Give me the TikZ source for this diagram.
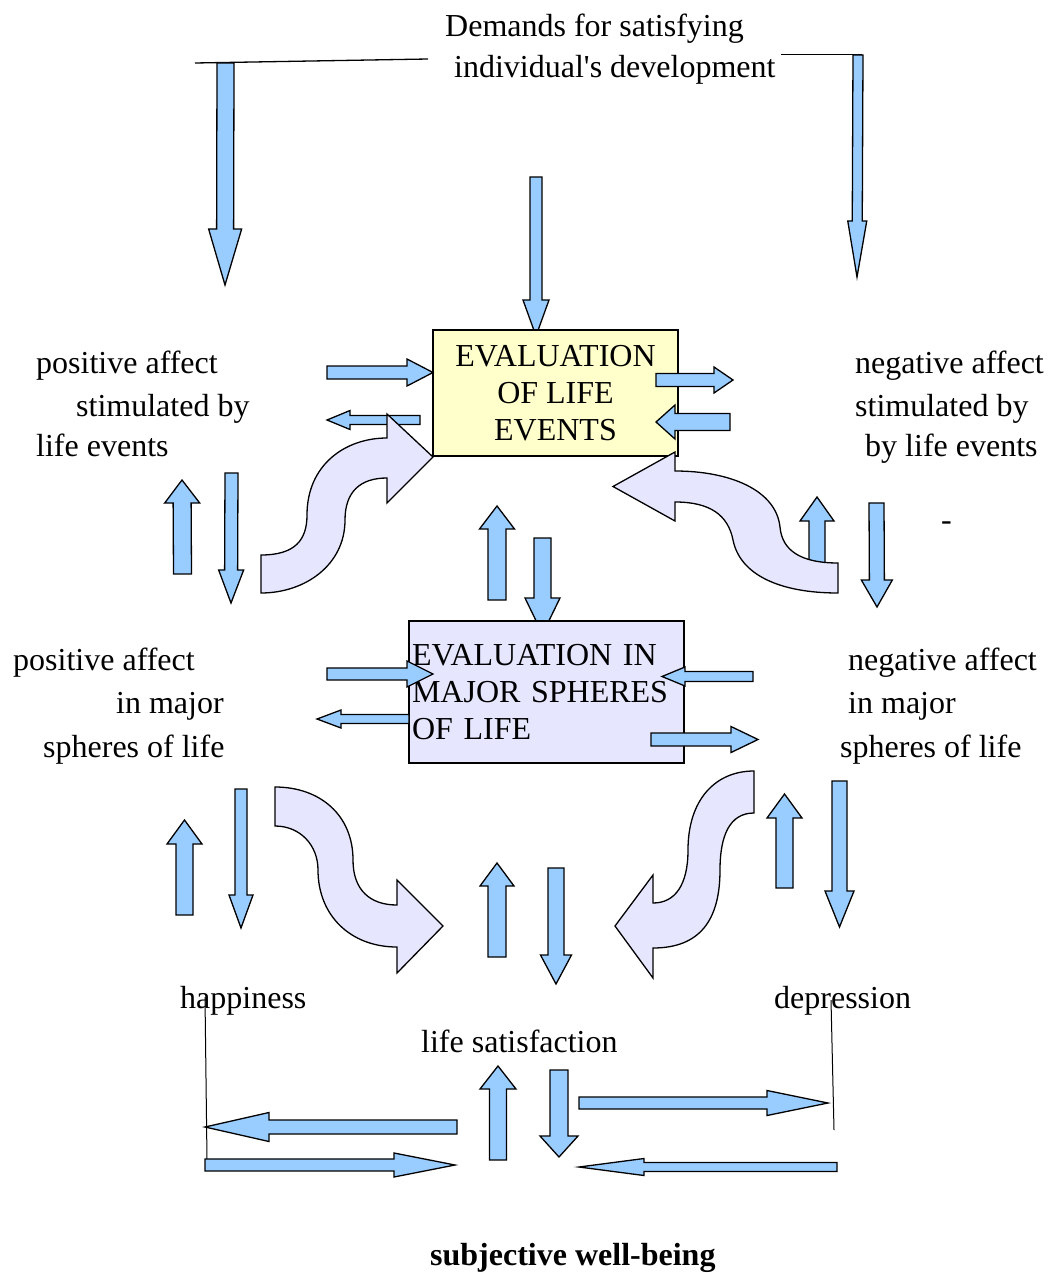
\documentclass[tikz,border=0pt]{standalone}
\usepackage{fontspec}
\setmainfont{Liberation Serif}[Ligatures=TeXOff]
\usetikzlibrary{calc}
\definecolor{arrowblue}{RGB}{153,204,255}
\definecolor{lavender}{RGB}{230,230,255}
\definecolor{paleyellow}{RGB}{255,255,204}
\tikzset{
  barrow/.style  = {draw=black, fill=arrowblue, line width=1.3pt, line join=miter},
  carrow/.style  = {draw=black, fill=lavender, line width=1.3pt, line join=miter},
  lbl/.style     = {anchor=base west, inner sep=0pt, font=\fontsize{32}{42}\selectfont},
  bracket/.style = {draw=black, line width=1.3pt},
  leader/.style  = {draw=black, line width=1pt},
  %% Box presets
  ybox/.style = {draw=black, fill=paleyellow, line width=1.3pt, align=center,
                 font=\fontsize{32}{37}\selectfont, inner sep=3pt},
  lbox/.style = {draw=black, fill=lavender, line width=1.3pt, align=left,
                 font=\fontsize{32}{37}\selectfont, inner sep=3pt},
}
%% block arrow: tail, tip, shaft width, head width, head length
\newcommand{\blockarrow}[5]{%
  \coordinate (ta) at (#1);
  \coordinate (tb) at (#2);
  \coordinate (th) at ($(tb)!#5pt!(ta)$);
  \draw[barrow] ($(ta)!#3pt*0.5!90:(tb)$) -- ($(th)!#3pt*0.5!-90:(ta)$)
    -- ($(th)!#4pt*0.5!-90:(ta)$) -- (tb)
    -- ($(th)!#4pt*0.5!90:(ta)$) -- ($(th)!#3pt*0.5!90:(ta)$)
    -- ($(ta)!#3pt*0.5!-90:(tb)$) -- cycle;
}

\begin{document}
\begin{tikzpicture}[x=1pt, y=-1pt]
\useasboundingbox (0,0) rectangle (1048,1273);

%% ---- (1) Demands on top ----
\node[lbl] (dem1) at (445,37) {Demands for satisfying};
\node[lbl] (dem2) at (454,78) {individual's development};

\coordinate (brL1) at (195,63);
\coordinate (brL2) at (428,59);
\coordinate (brR1) at (781,54.5);
\coordinate (brR2) at (862,54.5);
\draw[bracket] (brL1) -- (brL2);
\draw[bracket] (brR1) -- (brR2);

\blockarrow{225.5,63}{225,285}{17}{33}{56}
\blockarrow{858,55}{857,277}{10}{19}{56}
\blockarrow{536,177}{536,336}{12}{26}{36}

%% ---- (2) Evaluation of life events ----
\node[ybox, minimum width=245, minimum height=126] (evalevents) at (555.5,393)
  {EVALUATION\\OF LIFE\\EVENTS};

\blockarrow{327,372.5}{433,372.5}{13}{27}{26}
\blockarrow{420,420}{327,420}{9}{19}{23}
\blockarrow{656,380}{733,380}{13}{26}{19}
\blockarrow{730,422}{656,422}{17}{34}{19}

%% ---- (3) Affect stimulated by life events ----
\node[lbl] (pe1) at (36,373) {positive affect};
\node[lbl] (pe2) at (76,416) {stimulated by};
\node[lbl] (pe3) at (36,456) {life events};

\node[lbl] (ne1) at (855,373) {negative affect};
\node[lbl] (ne2) at (855,416) {stimulated by};
\node[lbl] (ne3) at (865,456) {by life events};
\node[lbl] (dash) at (941,530) {-};

\blockarrow{182.5,574}{182,480}{18}{35}{23}
\blockarrow{231.5,473}{231,603}{13}{25}{33}
\blockarrow{817,590}{817,497}{16}{34}{24}
\blockarrow{876.5,503}{877,607}{15}{31}{27}
\blockarrow{497,600}{497,506}{18}{35}{23}
\blockarrow{542.5,538}{542.5,634}{17}{35}{36}

%% curved arrows into the upper box
\draw[carrow] (261,555) .. controls (295,555) and (307,540) .. (307,515)
  .. controls (307,465) and (345,438) .. (387,438) -- (387,414) -- (433,457)
  -- (387,503) -- (387,478) .. controls (360,478) and (345,492) .. (345,520)
  .. controls (345,565) and (305,593) .. (261,593) -- cycle;
\draw[carrow] (838,563) .. controls (800,563) and (782,550) .. (780,527)
  .. controls (776,490) and (730,471) .. (675,471) -- (675,452) -- (613,486.5)
  -- (675,521) -- (675,502) .. controls (710,502) and (728,515) .. (733,540)
  .. controls (740,575) and (780,593) .. (838,593) -- cycle;

%% ---- (4) Evaluation in major spheres of life ----
\node[lbox, text width=269, minimum height=142] (evalspheres) at (546.5,692)
  {EVALUATION IN\\MAJOR SPHERES\\OF LIFE};

\blockarrow{327,674}{433,674}{12}{26}{26}
\blockarrow{409,719}{317,719}{9}{18}{24}
\blockarrow{753,676.5}{662,676.5}{10}{19}{23}
\blockarrow{651,739.5}{758,739.5}{13}{26}{27}

%% ---- (5) Affect in major spheres of life ----
\node[lbl] (ps1) at (13,670) {positive affect};
\node[lbl] (ps2) at (116,713) {in major};
\node[lbl] (ps3) at (43,757) {spheres of life};

\node[lbl] (ns1) at (848,670) {negative affect};
\node[lbl] (ns2) at (848,713) {in major};
\node[lbl] (ns3) at (840,757) {spheres of life};

\blockarrow{184.5,915}{184.5,820}{17}{35}{24}
\blockarrow{241,789}{241,928}{12}{24}{33}
\blockarrow{784.5,888}{784.5,794}{17}{35}{24}
\blockarrow{839.5,781}{839.5,927}{15}{29}{36}
\blockarrow{497,957}{497,863}{18}{34}{23}
\blockarrow{556,868}{556,984}{16}{31}{29}

%% curved arrows towards life satisfaction
\draw[carrow] (275,787) .. controls (320,787) and (353,815) .. (353,860)
  .. controls (353,890) and (370,905) .. (397,905) -- (397,880) -- (443,926)
  -- (397,973) -- (397,947) .. controls (350,947) and (318,915) .. (318,870)
  .. controls (318,845) and (300,826) .. (275,826) -- cycle;
\draw[carrow] (754,771) .. controls (715,771) and (688,800) .. (688,850)
  .. controls (688,885) and (675,903) .. (653,903) -- (653,875) -- (615,926)
  -- (653,978) -- (653,948) .. controls (700,948) and (720,920) .. (720,870)
  .. controls (720,835) and (730,813) .. (754,813) -- cycle;

%% ---- (6) Components of subjective well-being ----
\node[lbl] (happiness)  at (180,1008) {happiness};
\node[lbl] (depression) at (774,1008) {depression};
\node[lbl] (lifesat)    at (421,1052) {life satisfaction};

\coordinate (hapL1) at (205,997);
\coordinate (hapL2) at (207,1160);
\coordinate (depL1) at (831,1000);
\coordinate (depL2) at (834,1130);
\draw[leader] (hapL1) -- (hapL2);
\draw[leader] (depL1) -- (depL2);

\blockarrow{498,1160}{498,1066}{17}{36}{23}
\blockarrow{559,1070}{559,1157}{18}{38}{21}
\blockarrow{457,1127}{205,1127}{14}{29}{64}
\blockarrow{205,1165}{455,1165}{12}{24}{61}
\blockarrow{579,1103}{828,1103}{12}{25}{61}
\blockarrow{837,1167}{579,1167}{9}{17}{65}

\node[lbl, font=\fontsize{32}{42}\selectfont\bfseries] (swb) at (430,1265) {subjective well-being};

\end{tikzpicture}
\end{document}
